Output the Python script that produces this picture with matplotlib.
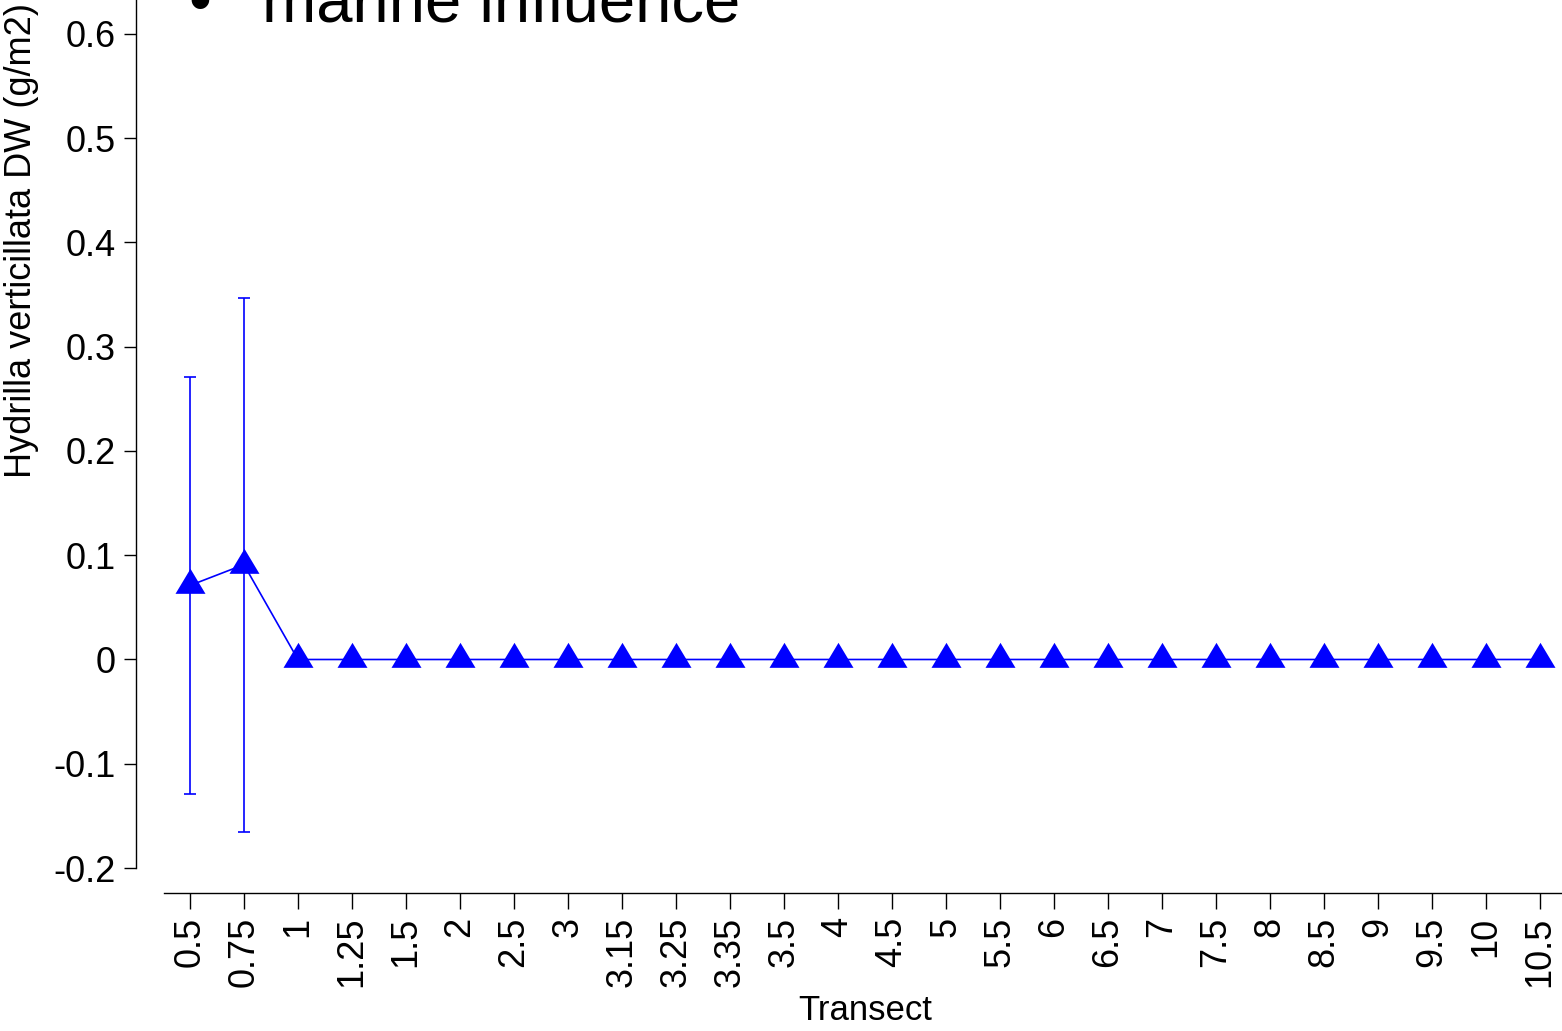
import matplotlib
matplotlib.use("Agg")
import matplotlib.pyplot as plt
import numpy as np

plt.rcParams['font.family'] = ['Liberation Sans', 'DejaVu Sans']

# Transect labels and Hydrilla dry-weight means with their error half-widths
transects = ["0.5", "0.75", "1", "1.25", "1.5", "2", "2.5", "3", "3.15", "3.25",
             "3.35", "3.5", "4", "4.5", "5", "5.5", "6", "6.5", "7", "7.5",
             "8", "8.5", "9", "9.5", "10", "10.5"]
dw_mean = [0.071, 0.091, 0, 0, 0, 0, 0, 0, 0, 0,
           0, 0, 0, 0, 0, 0, 0, 0, 0, 0,
           0, 0, 0, 0, 0, 0]
dw_err = [0.200, 0.256, 0, 0, 0, 0, 0, 0, 0, 0,
          0, 0, 0, 0, 0, 0, 0, 0, 0, 0,
          0, 0, 0, 0, 0, 0]
y_ticks = [-0.2, -0.1, 0, 0.1, 0.2, 0.3, 0.4, 0.5, 0.6]
y_ticklabels = ["-0.2", "-0.1", "0", "0.1", "0.2", "0.3", "0.4", "0.5", "0.6"]

W, H, DPI = 1562, 1031, 100
fig = plt.figure(figsize=(W / DPI, H / DPI), dpi=DPI)

left_px, right_px, bottom_px, top_px = 164, 1567, 868, 0
ax = fig.add_axes([left_px / W, (H - bottom_px) / H,
                   (right_px - left_px) / W, (bottom_px - top_px) / H])

x = np.arange(len(transects))
blue = (0, 0, 1)

# triangle centred on its centroid
tri = [(-15, -8.33), (15, -8.33), (0, 16.67), (-15, -8.33)]

# error bars with caps, then the connecting line with markers
ax.errorbar(x, dw_mean, yerr=dw_err, fmt='none', ecolor=blue,
            elinewidth=1.2, capsize=4.0, capthick=1.2, zorder=2)
ax.plot(x, dw_mean, color=blue, lw=1.2, marker=tri, markersize=24,
        markerfacecolor=blue, markeredgewidth=0, zorder=3)

ax.set_xlim(-0.48, 25.5)
ax.set_ylim(-0.2, 0.6326)

ax.spines['top'].set_visible(False)
ax.spines['right'].set_visible(False)
ax.spines['left'].set_position(('outward', 20.2))
ax.spines['bottom'].set_position(('outward', 18))
ax.spines['left'].set_linewidth(1.0)
ax.spines['bottom'].set_linewidth(1.0)
ax.spines['left'].set_bounds(-0.2, 0.6326)
ax.spines['bottom'].set_bounds(-0.48, 25.5)

ax.tick_params(axis='y', length=9, width=1.0, pad=5.5, colors='black', labelsize=26)
ax.tick_params(axis='x', length=11.5, width=1.0, pad=5.5, colors='black',
               labelsize=26, labelrotation=90)

ax.set_xticks(x)
ax.set_xticklabels(transects)
ax.set_yticks(y_ticks)
ax.set_yticklabels(y_ticklabels)

ax.set_xlabel("Transect", fontsize=25)
ax.xaxis.set_label_coords((865 - left_px) / (right_px - left_px),
                          -(1020 - bottom_px) / (bottom_px - top_px))
ax.xaxis.label.set_va('baseline')

fig.text(39 / W, 1 - 241 / H, "Hydrilla verticillata DW (g/m2)", rotation=90,
         fontsize=26, ha='right', va='center')

fig.text(188 / W, 1 - 22 / H, "\u2022", fontsize=47, ha='left', va='baseline')
fig.text(262 / W, 1 - 22 / H, "marine influence", fontsize=47, ha='left', va='baseline')

fig.savefig("out.png", dpi=DPI)
